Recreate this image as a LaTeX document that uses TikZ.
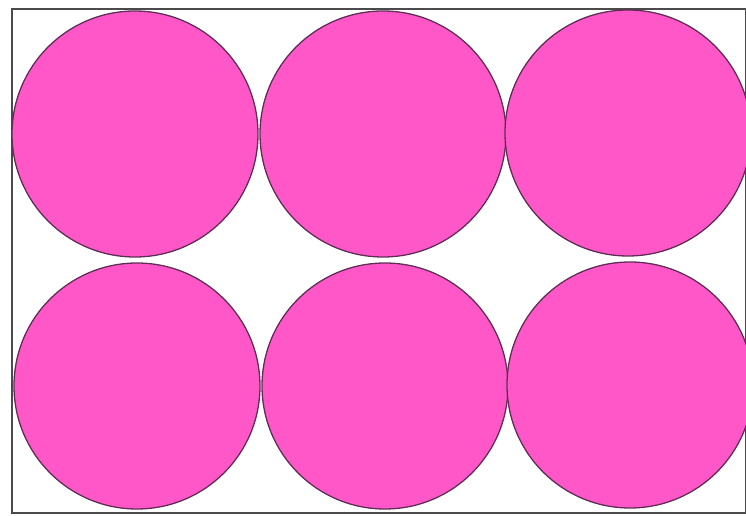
\documentclass[tikz,border=0pt]{standalone}
\usepackage{tikz}
\definecolor{discpink}{RGB}{255,87,200}
\definecolor{discrim}{RGB}{95,45,85}
\definecolor{boxgray}{RGB}{75,75,75}
\tikzset{
  boxln/.style={line width=1.6pt, boxgray},
  disc/.style={fill=discpink, draw=discrim, line width=1.1pt},
}

\begin{document}
\begin{tikzpicture}[x=0.03cm,y=-0.03cm]
  \useasboundingbox (0,0) rectangle (746,516);
  % --- box ---
  \draw[boxln] (12,9) rectangle (746,513);
  % --- two rows of discs ---
  \foreach \cx/\cy in {135/134, 383/134, 628/133, 137/386, 385/386, 630/385}{
    \draw[disc] (\cx,\cy) circle (123);
  }
\end{tikzpicture}
\end{document}
